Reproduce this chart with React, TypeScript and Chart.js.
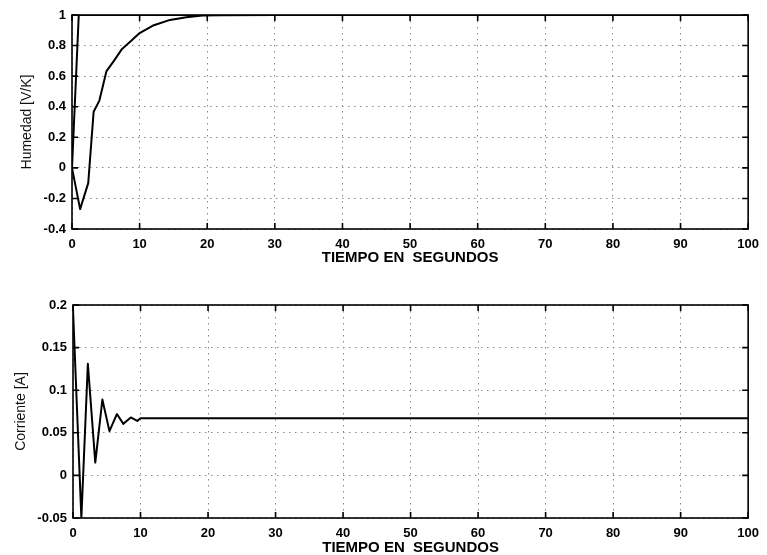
import React, { useEffect, useRef } from "react";
import { Chart, registerables } from "chart.js";

Chart.register(...registerables);

// ---- data ----
const humidityRefTimes = [0, 1, 100];
const humidityRefValues = [0, 1, 1];
const humidityTimes = [0, 1.2, 2.4, 3.2, 4.05, 5.1, 6.2, 7.4, 8.8, 10, 12.1, 14.5, 16.9, 19.3, 22, 30, 100];
const humidityValues = [0, -0.27, -0.1, 0.367, 0.44, 0.633, 0.7, 0.778, 0.833, 0.882, 0.933, 0.968, 0.985, 0.996, 0.999, 1, 1];
const currentTimes = [0, 1.24, 2.2, 3.3, 4.35, 5.4, 6.5, 7.46, 8.56, 9.52, 10, 100];
const currentValues = [0.195, -0.05, 0.131, 0.015, 0.089, 0.052, 0.072, 0.0605, 0.068, 0.064, 0.067, 0.067];
const xTitle = "TIEMPO EN  SEGUNDOS";
const topYTitle = "Humedad [V/K]";
const bottomYTitle = "Corriente [A]";

const FONT = "'Liberation Sans', Arial, sans-serif";

const toPts = (xs: number[], ys: number[]) => xs.map((x, i) => ({ x, y: ys[i] }));

const framePlugin = {
  id: "matlabFrame",
  afterDraw(chart: any) {
    const { ctx, chartArea: a, scales } = chart;
    ctx.save();
    ctx.strokeStyle = "#000";
    ctx.lineWidth = 1.6;
    ctx.strokeRect(a.left, a.top, a.right - a.left, a.bottom - a.top);
    const L = 6;
    ctx.beginPath();
    scales.x.ticks.forEach((t: any) => {
      const px = scales.x.getPixelForValue(t.value);
      ctx.moveTo(px, a.bottom);
      ctx.lineTo(px, a.bottom - L);
      ctx.moveTo(px, a.top);
      ctx.lineTo(px, a.top + L);
    });
    scales.y.ticks.forEach((t: any) => {
      const py = scales.y.getPixelForValue(t.value);
      ctx.moveTo(a.left, py);
      ctx.lineTo(a.left + L, py);
      ctx.moveTo(a.right, py);
      ctx.lineTo(a.right - L, py);
    });
    ctx.stroke();
    ctx.restore();
  },
};

const bgPlugin = {
  id: "whiteBg",
  beforeDraw(chart: any) {
    const { ctx, width, height } = chart;
    ctx.save();
    ctx.fillStyle = "#fff";
    ctx.fillRect(0, 0, width, height);
    ctx.restore();
  },
};

function makeConfig(
  datasets: any[],
  yMin: number,
  yMax: number,
  yStep: number,
  yTitle: string,
  padTop: number,
  yWidth: number,
  xHeight: number,
  xTitlePadBottom: number,
  yTitlePadTop: number
): any {
  return {
    type: "line",
    data: { datasets },
    plugins: [bgPlugin, framePlugin],
    options: {
      animation: false,
      responsive: false,
      layout: { padding: { top: padTop, right: 15, left: 0, bottom: 0 } },
      plugins: { legend: { display: false }, tooltip: { enabled: false } },
      elements: { point: { radius: 0 }, line: { tension: 0 } },
      scales: {
        x: {
          type: "linear",
          min: 0,
          max: 100,
          afterFit: (s: any) => {
            s.height = xHeight;
          },
          ticks: {
            stepSize: 10,
            color: "#000",
            padding: 8,
            maxRotation: 0,
            font: { family: FONT, size: 13, weight: "bold" },
          },
          grid: { color: "#8a8a8a", lineWidth: 1, drawTicks: false },
          border: { display: false, dash: [1.5, 4.5] },
          title: {
            display: true,
            text: xTitle,
            color: "#000",
            font: { family: FONT, size: 15, weight: "bold" },
            padding: { top: 0, bottom: xTitlePadBottom },
          },
        },
        y: {
          type: "linear",
          min: yMin,
          max: yMax,
          afterFit: (s: any) => {
            s.width = yWidth;
          },
          ticks: {
            stepSize: yStep,
            color: "#000",
            padding: 6,
            font: { family: FONT, size: 13, weight: "bold" },
            callback: (v: any) => String(Number(Number(v).toFixed(3))),
          },
          grid: { color: "#8a8a8a", lineWidth: 1, drawTicks: false },
          border: { display: false, dash: [1.5, 4.5] },
          title: {
            display: true,
            text: yTitle,
            color: "#111",
            font: { family: FONT, size: 14 },
            padding: { top: yTitlePadTop, bottom: 0 },
          },
        },
      },
    },
  };
}

function ChartBox(props: { config: any; top: number; height: number }) {
  const ref = useRef<HTMLCanvasElement | null>(null);
  useEffect(() => {
    if (!ref.current) return;
    const c = new Chart(ref.current, props.config);
    return () => c.destroy();
  }, []);
  return (
    <div style={{ position: "absolute", left: 0, top: props.top, width: 767, height: props.height }}>
      <canvas ref={ref} width={767} height={props.height} style={{ display: "block" }} />
    </div>
  );
}

export default function App() {
  const line = (data: any[]) => ({
    data,
    borderColor: "#000",
    borderWidth: 2,
    pointRadius: 0,
    fill: false,
    borderJoinStyle: "round",
  });
  const topCfg = makeConfig(
    [line(toPts(humidityRefTimes, humidityRefValues)), line(toPts(humidityTimes, humidityValues))],
    -0.4,
    1,
    0.2,
    topYTitle,
    15,
    72,
    46,
    8,
    19
  );
  const botCfg = makeConfig(
    [line(toPts(currentTimes, currentValues))],
    -0.05,
    0.2,
    0.05,
    bottomYTitle,
    25,
    73,
    40,
    1,
    13
  );
  return (
    <div style={{ position: "absolute", left: 0, top: 0, width: 767, height: 555, background: "#fff", overflow: "hidden" }}>
      <ChartBox config={topCfg} top={0} height={275} />
      <ChartBox config={botCfg} top={280} height={278} />
    </div>
  );
}
